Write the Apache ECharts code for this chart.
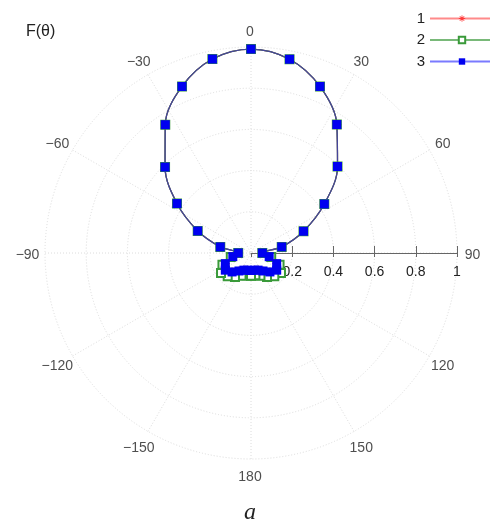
<!DOCTYPE html>
<html>
<head>
<meta charset="utf-8">
<script src="https://cdn.jsdelivr.net/npm/echarts@6/dist/echarts.min.js"></script>
<style>
  html, body { margin: 0; padding: 0; background: #fff; }
  #chart { width: 490px; height: 522px; }
</style>
</head>
<body>
<div id="chart"></div>
<script>
// Direction angles in degrees (0 = forward, clockwise positive)
const angles = [-180, -168.75, -157.5, -146.25, -135, -123.75, -112.5, -101.25, -90,
  -78.75, -67.5, -56.25, -45, -33.75, -22.5, -11.25, 0, 11.25, 22.5, 33.75, 45,
  56.25, 67.5, 78.75, 90, 101.25, 112.5, 123.75, 135, 146.25, 157.5, 168.75, 180];

// Normalised pattern F(theta) for the three cases
const pattern1 = [0.085, 0.085, 0.09, 0.105, 0.13, 0.15, 0.135, 0.09, 0.062,
  0.152, 0.28, 0.432, 0.59, 0.749, 0.875, 0.96, 0.99, 0.959, 0.875, 0.75, 0.594,
  0.428, 0.276, 0.152, 0.055, 0.09, 0.135, 0.15, 0.13, 0.105, 0.09, 0.085, 0.085];
const pattern2 = [0.11, 0.11, 0.12, 0.14, 0.16, 0.175, 0.15, 0.1, 0.062,
  0.152, 0.28, 0.432, 0.59, 0.749, 0.875, 0.96, 0.99, 0.959, 0.875, 0.75, 0.594,
  0.428, 0.276, 0.152, 0.055, 0.1, 0.15, 0.175, 0.16, 0.14, 0.12, 0.11, 0.11];
const pattern3 = [0.085, 0.085, 0.09, 0.105, 0.13, 0.15, 0.135, 0.09, 0.062,
  0.152, 0.28, 0.432, 0.59, 0.749, 0.875, 0.96, 0.99, 0.959, 0.875, 0.75, 0.594,
  0.428, 0.276, 0.152, 0.055, 0.09, 0.135, 0.15, 0.13, 0.105, 0.09, 0.085, 0.085];

const seriesNames = ['1', '2', '3'];

// Angle grid ticks and their labels
const angleTickValues = [-150, -120, -90, -60, -30, 0, 30, 60, 90, 120, 150, 180];
const angleTickLabels = ['\u2212150', '\u2212120', '\u221290', '\u221260', '\u221230',
  '0', '30', '60', '90', '120', '150', '180'];
const angleLabelRadius = 1.08;

const FONT = '"Liberation Sans", Arial, sans-serif';

// The angle axis starts at east (value 90) and runs clockwise to 450,
// so an angle below 90 is shifted by one full turn.
function toAxisAngle(a) { return a < 90 ? a + 360 : a; }
function pairs(values) {
  return values.map((r, i) => [r, toAxisAngle(angles[i])]);
}

const chart = echarts.init(document.getElementById('chart'), null, { renderer: 'canvas' });

const asterisk = 'path://M-5,-0.6L5,-0.6L5,0.6L-5,0.6Z' +
  'M-0.6,-5L0.6,-5L0.6,5L-0.6,5Z' +
  'M-3.96,-3.12L-3.12,-3.96L3.96,3.12L3.12,3.96Z' +
  'M3.12,-3.96L3.96,-3.12L-3.12,3.96L-3.96,3.12Z';

const gridLine = { color: '#dcdcdc', type: [1, 2], width: 1 };
const hiddenAngleAxis = {
  type: 'value', min: 90, max: 450, interval: 30,
  startAngle: 0, clockwise: true,
  axisLine: { show: false }, axisTick: { show: false },
  axisLabel: { show: false }, splitLine: { show: false }
};

chart.setOption({
  animation: false,
  backgroundColor: '#fff',
  title: [
    { text: 'F(\u03b8)', left: 26, top: 24, padding: 0,
      textStyle: { fontFamily: FONT, fontSize: 16, fontWeight: 'normal', color: '#222' } },
    { text: 'a', left: 244, top: 501, padding: 0,
      textStyle: { fontFamily: '"Liberation Serif", "DejaVu Serif", serif', fontStyle: 'italic',
        fontSize: 24, fontWeight: 'normal', color: '#222' } }
  ],
  legend: {
    orient: 'vertical',
    right: -10,
    top: 6,
    align: 'right',
    itemWidth: 64,
    itemHeight: 8,
    itemGap: 6.5,
    textStyle: { fontFamily: FONT, fontSize: 15, color: '#222' },
    data: [
      { name: '1', lineStyle: { color: '#ff8a8a' } },
      { name: '2', lineStyle: { color: '#79b979' } },
      { name: '3', lineStyle: { color: '#7a7aff' } }
    ]
  },
  polar: [
    { center: [251, 253], radius: 206 },   // plot and grid
    { center: [251, 253], radius: 206 },   // lower half of the radial ticks
    { center: [250, 255], radius: 206 }    // angle labels
  ],
  angleAxis: [
    {
      polarIndex: 0,
      type: 'value', min: 90, max: 450, interval: 30,
      startAngle: 0, clockwise: true,
      axisLine: { show: false },
      axisTick: { show: false },
      axisLabel: { show: false },
      splitLine: { show: true, lineStyle: gridLine }
    },
    Object.assign({ polarIndex: 1 }, hiddenAngleAxis),
    Object.assign({ polarIndex: 2 }, hiddenAngleAxis)
  ],
  radiusAxis: [
    {
      polarIndex: 0,
      type: 'value', min: 0, max: 1, interval: 0.2,
      axisLine: { show: true, lineStyle: { color: '#666', width: 1 } },
      axisTick: { show: true, length: 7, lineStyle: { color: '#666' } },
      axisLabel: { showMinLabel: false, margin: -26,
        fontFamily: FONT, fontSize: 14, color: '#222' },
      splitLine: { show: true, lineStyle: gridLine }
    },
    {
      polarIndex: 1,
      type: 'value', min: 0, max: 1, interval: 0.2,
      axisLine: { show: false },
      axisTick: { show: true, length: -4, lineStyle: { color: '#666' } },
      axisLabel: { show: false },
      splitLine: { show: false }
    },
    {
      polarIndex: 2,
      type: 'value', min: 0, max: 1,
      axisLine: { show: false }, axisTick: { show: false },
      axisLabel: { show: false }, splitLine: { show: false }
    }
  ],
  series: [
    {
      name: seriesNames[0], type: 'line', coordinateSystem: 'polar', polarIndex: 0,
      data: pairs(pattern1), smooth: 0.35,
      symbol: asterisk, symbolSize: 9,
      itemStyle: { color: '#ff3b3b' },
      lineStyle: { color: '#c06060', width: 1.2 }
    },
    {
      name: seriesNames[1], type: 'line', coordinateSystem: 'polar', polarIndex: 0,
      data: pairs(pattern2), smooth: 0.35,
      symbol: 'emptyRect', symbolSize: 8,
      itemStyle: { color: '#3a9a3a', borderColor: '#3a9a3a', borderWidth: 1 },
      lineStyle: { color: '#4f8f4f', width: 1.2 }
    },
    {
      name: seriesNames[2], type: 'line', coordinateSystem: 'polar', polarIndex: 0,
      data: pairs(pattern3), smooth: 0.35,
      symbol: 'rect', symbolSize: 9,
      itemStyle: { color: '#0000f0' },
      lineStyle: { color: '#45459a', width: 1.3 }
    },
    {
      // angle tick labels placed just outside the unit circle
      type: 'scatter', coordinateSystem: 'polar', polarIndex: 2,
      data: angleTickValues.map(a => [angleLabelRadius, toAxisAngle(a)]),
      symbolSize: 0, silent: true, clip: false,
      label: {
        show: true, position: 'inside',
        fontFamily: FONT, fontSize: 14, color: '#222',
        formatter: p => angleTickLabels[p.dataIndex]
      }
    }
  ]
});
</script>
</body>
</html>
